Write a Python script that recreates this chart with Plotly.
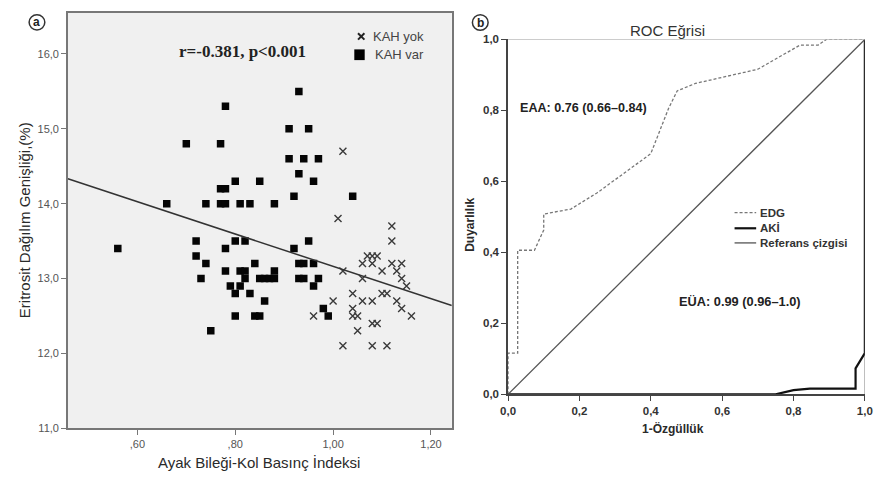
import plotly.graph_objects as go

W, H = 881, 479


def px(x):
    return x / W


def py(y):
    return 1 - y / H


# ---------------- Panel a data ----------------
kah_var_x = [0.56, 0.66, 0.70, 0.72, 0.72, 0.73, 0.74, 0.74, 0.75, 0.77,
             0.78, 0.77, 0.78, 0.77, 0.78, 0.78, 0.78, 0.79, 0.80, 0.80,
             0.80, 0.80, 0.81, 0.81, 0.81, 0.82, 0.82, 0.82, 0.83, 0.83,
             0.84, 0.84, 0.85, 0.85, 0.85, 0.86, 0.86, 0.87, 0.88, 0.88,
             0.88, 0.91, 0.91, 0.92, 0.92, 0.93, 0.93, 0.93, 0.94, 0.93,
             0.94, 0.94, 0.95, 0.95, 0.96, 0.96, 0.96, 0.97, 0.97, 0.98,
             0.99, 1.04]
kah_var_y = [13.4, 14.0, 14.8, 13.5, 13.3, 13.0, 14.0, 13.2, 12.3, 14.8,
             15.3, 14.2, 14.2, 14.0, 14.0, 13.4, 13.1, 12.9, 14.3, 13.5,
             12.8, 12.5, 14.0, 13.1, 12.9, 13.5, 13.1, 13.0, 14.0, 12.8,
             13.2, 12.5, 12.5, 14.3, 13.0, 12.7, 13.0, 13.0, 14.0, 13.1,
             13.0, 15.0, 14.6, 14.1, 13.4, 15.5, 14.4, 13.2, 13.2, 13.0,
             13.0, 14.6, 15.0, 13.5, 14.3, 13.2, 12.9, 14.6, 13.0, 12.6,
             12.5, 14.1]

kah_yok_x = [1.02, 1.01, 1.12, 1.12, 1.07, 1.08, 1.09, 1.06, 1.08, 1.12,
             1.14, 1.02, 1.10, 1.13, 1.06, 1.14, 1.15, 1.04, 1.10, 1.11,
             1.00, 1.06, 1.08, 1.13, 1.04, 1.14, 0.96, 1.04, 1.05, 1.16,
             1.08, 1.09, 1.05, 1.02, 1.08, 1.11]
kah_yok_y = [14.7, 13.8, 13.7, 13.5, 13.3, 13.3, 13.3, 13.2, 13.2, 13.2,
             13.2, 13.1, 13.1, 13.1, 13.0, 13.0, 12.9, 12.8, 12.8, 12.8,
             12.7, 12.7, 12.7, 12.7, 12.6, 12.6, 12.5, 12.5, 12.5, 12.5,
             12.4, 12.4, 12.3, 12.1, 12.1, 12.1]

fit_intercept = 15.322
fit_slope = -2.16

a_x_range = [0.458, 1.2425]
a_y_range = [11.0, 16.55]
a_x_tickvals = [0.6, 0.8, 1.0, 1.2]
a_x_ticktext = [",60", ",80", "1,00", "1,20"]
a_y_tickvals = [11, 12, 13, 14, 15, 16]
a_y_ticktext = ["11,0", "12,0", "13,0", "14,0", "15,0", "16,0"]
a_legend_labels = ["KAH yok", "KAH var"]

# ---------------- Panel b data ----------------
edg_fpr = [0, 0, 0.027, 0.027, 0.074, 0.10, 0.10, 0.176, 0.25, 0.326, 0.40,
           0.45, 0.474, 0.525, 0.561, 0.662, 0.70, 0.818, 0.869, 0.892, 1.0]
edg_tpr = [0, 0.116, 0.116, 0.406, 0.406, 0.463, 0.508, 0.522, 0.568, 0.625,
           0.678, 0.806, 0.855, 0.876, 0.884, 0.907, 0.916, 0.984, 0.984,
           1.0, 1.0]
aki_fpr = [0, 0.75, 0.80, 0.846, 0.974, 0.974, 1.0, 1.0]
aki_tpr = [0, 0, 0.012, 0.016, 0.016, 0.073, 0.116, 1.0]
ref_fpr = [0, 1]
ref_tpr = [0, 1]
b_legend_labels = ["EDG", "AKİ", "Referans çizgisi"]

b_tickvals = [0, 0.2, 0.4, 0.6, 0.8, 1.0]
b_ticktext = ["0,0", "0,2", "0,4", "0,6", "0,8", "1,0"]

FONT = "Liberation Sans, Arial, sans-serif"

EDG_LINE = dict(color="#777777", width=1.3, dash="3px,2px")
AKI_LINE = dict(color="#111111", width=2.2)
REF_LINE = dict(color="#555555", width=1.3)

fig = go.Figure()

# panel a markers
fig.add_trace(go.Scatter(
    x=kah_yok_x, y=kah_yok_y, mode="markers", name=a_legend_labels[0],
    showlegend=False,
    marker=dict(symbol="x-thin", size=7, line=dict(width=1.4, color="#3a3a3a")),
    xaxis="x", yaxis="y"))
fig.add_trace(go.Scatter(
    x=kah_var_x, y=kah_var_y, mode="markers", name=a_legend_labels[1],
    showlegend=False,
    marker=dict(symbol="square", size=7.5, color="#050505", line=dict(width=0)),
    xaxis="x", yaxis="y"))
# fit line
fig.add_trace(go.Scatter(
    x=a_x_range, y=[fit_intercept + fit_slope * v for v in a_x_range],
    mode="lines", showlegend=False, line=dict(color="#333333", width=1.5),
    xaxis="x", yaxis="y"))

# panel b curves
fig.add_trace(go.Scatter(
    x=edg_fpr, y=edg_tpr, mode="lines", name=b_legend_labels[0], showlegend=False,
    line=EDG_LINE, xaxis="x2", yaxis="y2"))
fig.add_trace(go.Scatter(
    x=aki_fpr, y=aki_tpr, mode="lines", name=b_legend_labels[1], showlegend=False,
    line=AKI_LINE, xaxis="x2", yaxis="y2"))
fig.add_trace(go.Scatter(
    x=ref_fpr, y=ref_tpr, mode="lines", name=b_legend_labels[2], showlegend=False,
    line=REF_LINE, xaxis="x2", yaxis="y2"))

axis_a = dict(showgrid=False, zeroline=False, showline=True, mirror=True,
              linecolor="#777777", linewidth=1.5, ticks="outside", ticklen=5,
              tickcolor="#777777", tickwidth=1.2,
              tickfont=dict(family=FONT, size=11, color="#555555"))
axis_b = dict(showgrid=False, zeroline=False, showline=True, mirror=False,
              linecolor="#444444", linewidth=1.5, ticks="outside", ticklen=5,
              tickcolor="#444444", tickwidth=1.2, range=[0, 1],
              tickvals=b_tickvals, ticktext=b_ticktext,
              tickfont=dict(family=FONT, size=11.5, color="#333333", weight="bold"))

shapes = [
    dict(type="rect", xref="x domain", yref="y domain", x0=0, x1=1, y0=0, y1=1,
         fillcolor="#f0f0f0", line=dict(width=0), layer="below"),
    dict(type="line", xref="x2", yref="y2", x0=0, x1=1, y0=1, y1=1,
         line=dict(color="#999999", width=1.2)),
    dict(type="line", xref="x2", yref="y2", x0=1, x1=1, y0=0, y1=1,
         line=dict(color="#999999", width=1.2), layer="below"),
    dict(type="circle", xref="paper", yref="paper",
         x0=px(21.5), x1=px(37.5), y0=py(24.5), y1=py(9),
         line=dict(color="#333333", width=1.5)),
    dict(type="circle", xref="paper", yref="paper",
         x0=px(473), x1=px(489), y0=py(25), y1=py(9),
         line=dict(color="#333333", width=1.5)),
    # panel a legend symbols
    dict(type="line", xref="paper", yref="paper",
         x0=px(356.5), x1=px(363), y0=py(28), y1=py(34.5),
         line=dict(color="#222222", width=2)),
    dict(type="line", xref="paper", yref="paper",
         x0=px(356.5), x1=px(363), y0=py(34.5), y1=py(28),
         line=dict(color="#222222", width=2)),
    dict(type="rect", xref="paper", yref="paper",
         x0=px(352.7), x1=px(363.3), y0=py(55.5), y1=py(44.5),
         fillcolor="#000000", line=dict(width=0)),
]
# panel b legend samples
b_legend_rows = [212, 228, 243]
for row, ln in zip(b_legend_rows, [EDG_LINE, AKI_LINE, REF_LINE]):
    shapes.append(dict(type="line", xref="paper", yref="paper",
                       x0=px(740), x1=px(762), y0=py(row), y1=py(row), line=ln))

annotations = [
    dict(text="a", x=px(29.5), y=py(16.5), xref="paper", yref="paper",
         showarrow=False, xanchor="center", yanchor="middle",
         font=dict(family=FONT, size=12, color="#222", weight="bold")),
    dict(text="b", x=px(481), y=py(17), xref="paper", yref="paper",
         showarrow=False, xanchor="center", yanchor="middle",
         font=dict(family=FONT, size=12, color="#222", weight="bold")),
    dict(text="r=-0.381, p<0.001", x=0.814, y=16.03, xref="x", yref="y",
         showarrow=False, xanchor="center", yanchor="middle",
         font=dict(family="Liberation Serif, Times New Roman, serif", size=17,
                   color="#222", weight="bold")),
    dict(text="Eritrosit Dağılım Genişliği,(%)", x=px(17), y=py(220),
         xref="paper", yref="paper", showarrow=False, textangle=-90,
         xanchor="center", yanchor="middle",
         font=dict(family=FONT, size=15, color="#2a2a2a")),
    dict(text="Ayak Bileği-Kol Basınç İndeksi", x=px(256), y=py(468),
         xref="paper", yref="paper", showarrow=False,
         xanchor="center", yanchor="middle",
         font=dict(family=FONT, size=15, color="#2a2a2a")),
    dict(text="ROC Eğrisi", x=px(672), y=py(25), xref="paper", yref="paper",
         showarrow=False, xanchor="center", yanchor="middle",
         font=dict(family=FONT, size=15, color="#333333")),
    dict(text="Duyarlılık", x=px(471), y=py(224), xref="paper", yref="paper",
         showarrow=False, textangle=-90, xanchor="center", yanchor="middle",
         font=dict(family=FONT, size=12, color="#2a2a2a", weight="bold")),
    dict(text="1-Özgüllük", x=px(677), y=py(433), xref="paper", yref="paper",
         showarrow=False, xanchor="center", yanchor="middle",
         font=dict(family=FONT, size=12, color="#2a2a2a", weight="bold")),
    dict(text="EAA: 0.76 (0.66–0.84)", x=0.027, y=0.808, xref="x2", yref="y2",
         showarrow=False, xanchor="left", yanchor="middle",
         font=dict(family=FONT, size=12.6, color="#222", weight="bold")),
    dict(text="EÜA: 0.99 (0.96–1.0)", x=0.473, y=0.262, xref="x2", yref="y2",
         showarrow=False, xanchor="left", yanchor="middle",
         font=dict(family=FONT, size=12.8, color="#222", weight="bold")),
    dict(text=a_legend_labels[0], x=px(369.5), y=py(31.5), xref="paper",
         yref="paper", showarrow=False, xanchor="left", yanchor="middle",
         font=dict(family=FONT, size=13, color="#444444")),
    dict(text=a_legend_labels[1], x=px(371.5), y=py(50), xref="paper",
         yref="paper", showarrow=False, xanchor="left", yanchor="middle",
         font=dict(family=FONT, size=13, color="#444444")),
]
for row, lab in zip(b_legend_rows, b_legend_labels):
    annotations.append(dict(text=lab, x=px(764), y=py(row), xref="paper",
                            yref="paper", showarrow=False, xanchor="left",
                            yanchor="middle",
                            font=dict(family=FONT, size=11.5, color="#333333",
                                      weight="bold")))

fig.update_layout(
    width=W, height=H, margin=dict(l=0, r=0, t=0, b=0),
    paper_bgcolor="white", plot_bgcolor="rgba(0,0,0,0)",
    font=dict(family=FONT), showlegend=False,
    xaxis=dict(domain=[px(61), px(452)], range=a_x_range, anchor="y",
               tickvals=a_x_tickvals, ticktext=a_x_ticktext, **axis_a),
    yaxis=dict(domain=[py(433), py(7)], range=a_y_range, anchor="x",
               tickvals=a_y_tickvals, ticktext=a_y_ticktext, **axis_a),
    xaxis2=dict(domain=[px(509.3), px(872.7)], anchor="y2", **axis_b),
    yaxis2=dict(domain=[py(398.3), py(34.3)], anchor="x2", **axis_b),
    shapes=shapes,
    annotations=annotations,
)

fig.write_html("out.html",
               config={"displayModeBar": False},
               post_script="document.body.style.margin='0px';"
                           "document.body.style.padding='0px';")
